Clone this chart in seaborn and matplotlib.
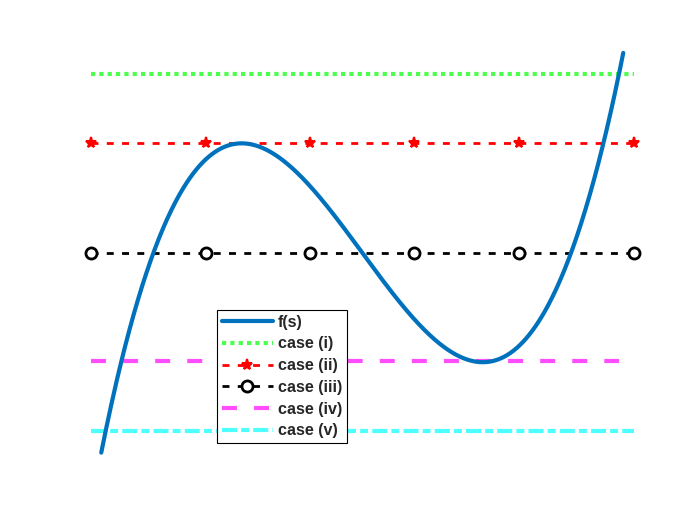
import numpy as np
import matplotlib
matplotlib.use("Agg")
import matplotlib.pyplot as plt
import seaborn as sns

# cubic f(s) = s^3 - 3s, drawn over the visible s range
f_coeffs = [1.0, 0.0, -3.0, 0.0]
s_range = [-2.165, 2.165]

# horizontal reference levels
level_i = 3.26
level_ii = 2.0
level_iii = 0.0
level_iv = -1.97
level_v = -3.26
line_span = [-2.25, 2.25]
line_span_iv = [-2.25, 2.13]

# marker positions along cases (ii) and (iii)
marker_s = [-2.25, -1.30, -0.43, 0.43, 1.30, 2.25]

labels = ["f(s)", "case (i)", "case (ii)", "case (iii)", "case (iv)", "case (v)"]

sns.set_style("white")
plt.rcParams["font.family"] = ["Liberation Sans", "DejaVu Sans"]

fig = plt.figure(figsize=(7, 5.25), dpi=100)
ax = fig.add_axes([0.13, 0.11, 0.775, 0.815])

s = np.linspace(s_range[0], s_range[1], 500)
sns.lineplot(x=s, y=np.polyval(f_coeffs, s), ax=ax, color="#0072BD",
             linewidth=3.0, label=labels[0], zorder=5)

g, = ax.plot(line_span, [level_i] * 2, color="#4dff4d", linewidth=3.0,
             label=labels[1])
g.set_dashes([1.0, 1.0])
r, = ax.plot(marker_s, [level_ii] * len(marker_s), color="red", linewidth=2.0,
             marker="*", markersize=8, markeredgewidth=1.5, label=labels[2],
             clip_on=False)
r.set_dashes([2.5, 3.0])
k, = ax.plot(marker_s, [level_iii] * len(marker_s), color="black", linewidth=2.0,
             marker="o", markersize=8, markerfacecolor="white",
             markeredgewidth=2.0, label=labels[3], clip_on=False)
k.set_dashes([2.5, 3.0])
m, = ax.plot(line_span_iv, [level_iv] * 2, color="#ff4dff", linewidth=3.0,
             label=labels[4])
m.set_dashes([3.6, 4.1])
c, = ax.plot(line_span, [level_v] * 2, color="#4dffff", linewidth=3.0,
             label=labels[5])
c.set_dashes([3.6, 1.0, 1.9, 1.0])

ax.set_xlim(-2.25, 2.25)
ax.set_ylim(-3.92, 3.9)
ax.axis("off")

leg = ax.legend(loc="lower left", bbox_to_anchor=(0.232, 0.056),
                borderaxespad=0, fancybox=False, framealpha=1,
                edgecolor="black", handlelength=3.2, handletextpad=0.3,
                labelspacing=0.42, borderpad=0.3,
                prop={"weight": "bold", "size": 11.6})
leg.get_frame().set_linewidth(0.8)

fig.savefig("out.png", dpi=100)
